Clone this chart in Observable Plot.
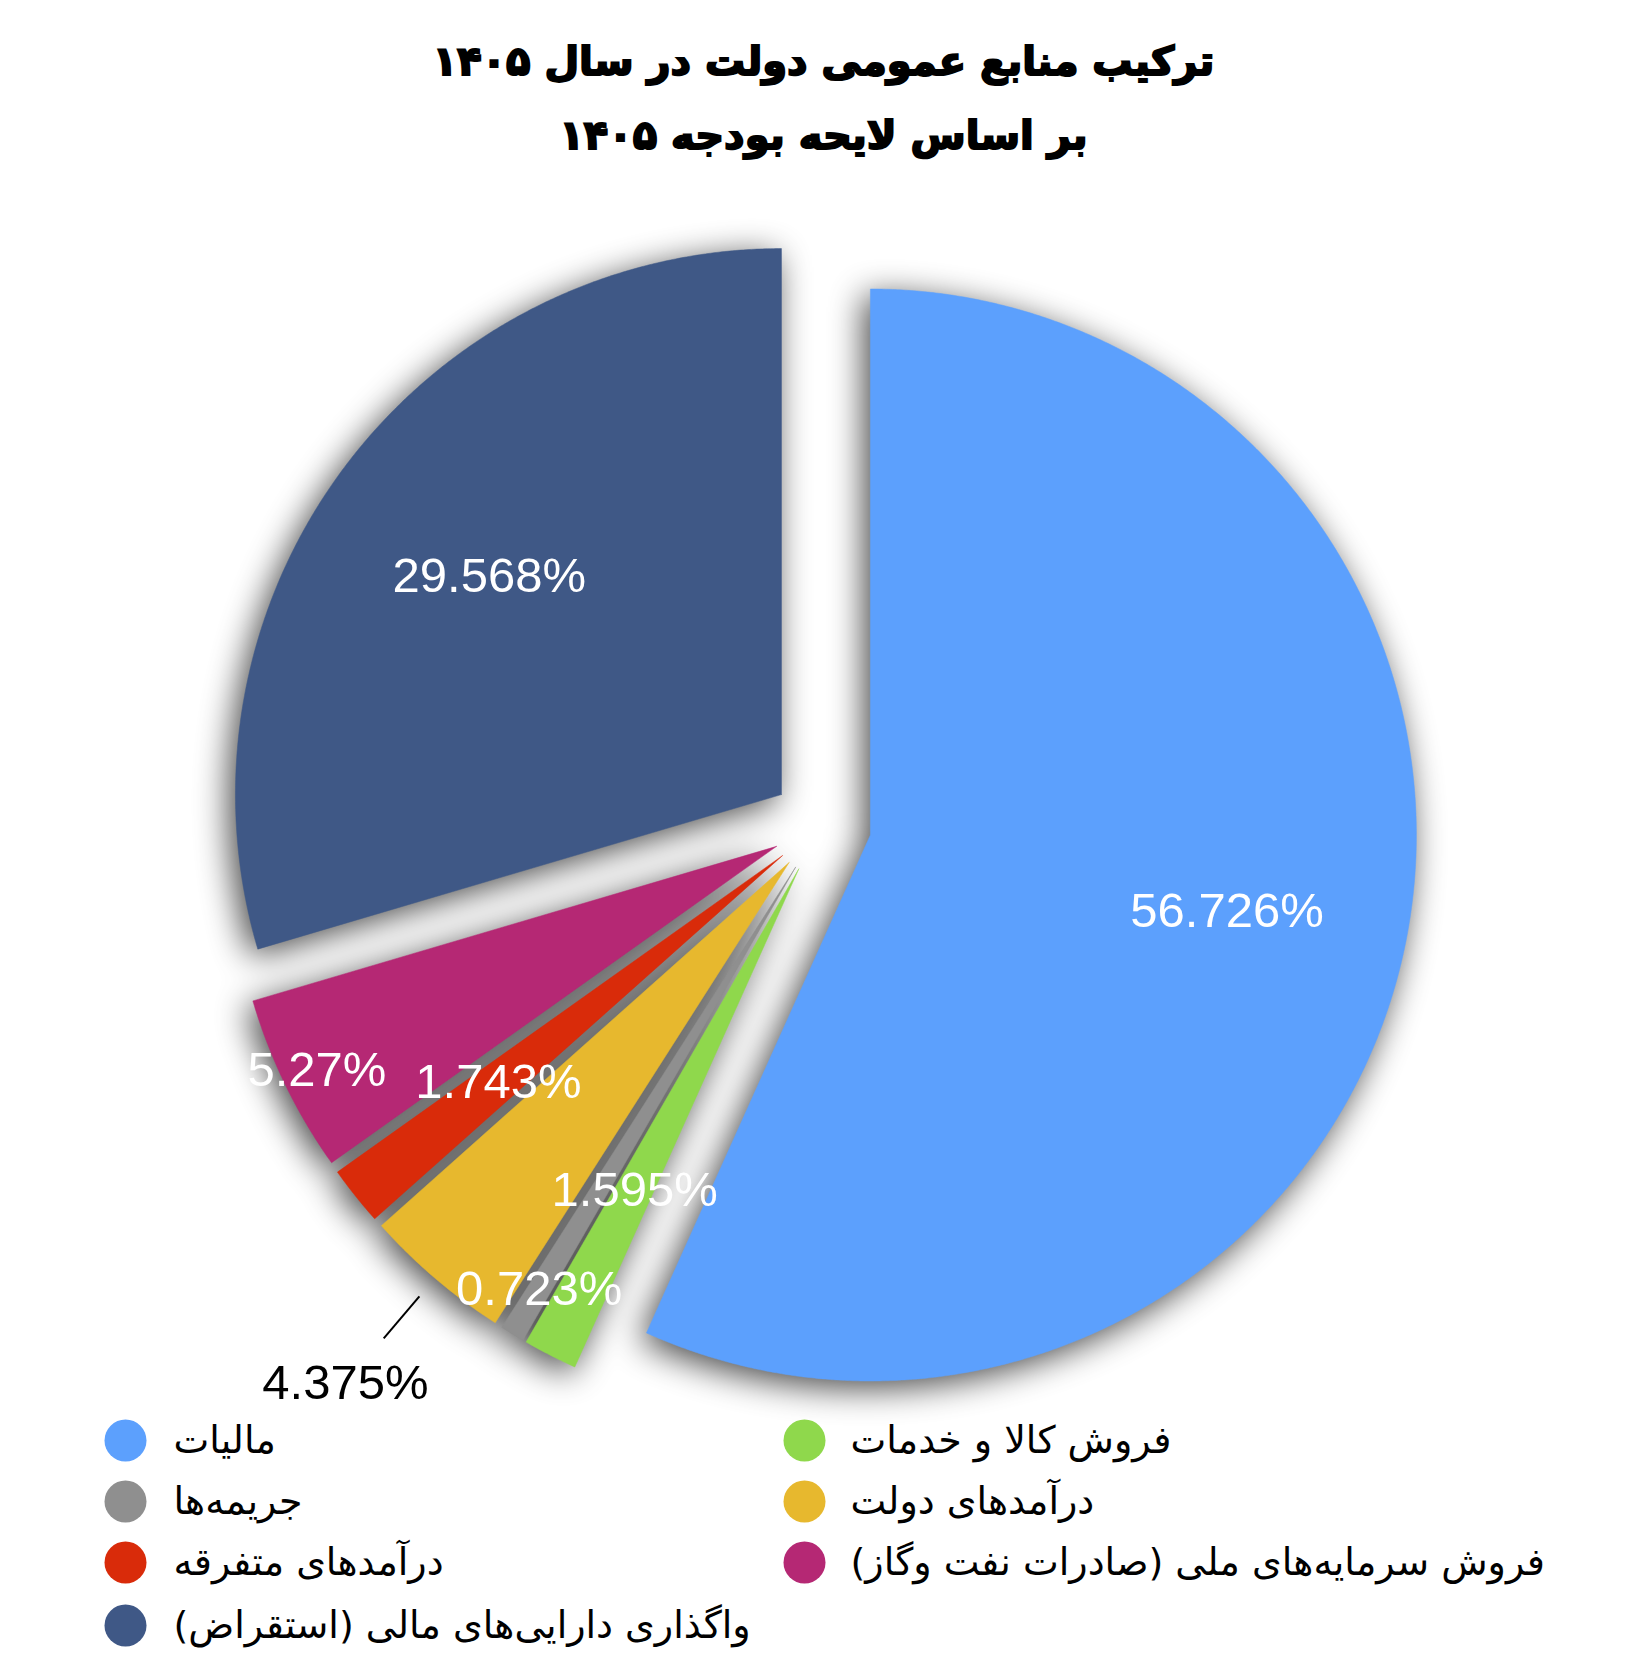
<!DOCTYPE html>
<html><head><meta charset="utf-8">
<script src="https://cdn.jsdelivr.net/npm/d3@7"></script>
<script src="https://cdn.jsdelivr.net/npm/@observablehq/plot@0.6"></script>
<style>
body{margin:0;background:#fff;width:1647px;}
#title{height:190px;box-sizing:border-box;padding-top:24px;text-align:center;font-family:"DejaVu Sans";font-weight:bold;font-size:40px;line-height:74px;color:#000;-webkit-text-stroke:2px #000;}
</style></head><body>
<div id="title" dir="rtl"><div>ترکیب منابع عمومی دولت در سال ۱۴۰۵</div><div>بر اساس لایحه بودجه ۱۴۰۵</div></div>
<div id="chart"></div>
<script>
// ---- data ----
const names = [
  "مالیات",
  "فروش کالا و خدمات",
  "جریمه\u200cها",
  "درآمدهای دولت",
  "درآمدهای متفرقه",
  "فروش سرمایه\u200cهای ملی (صادرات نفت وگاز)",
  "واگذاری دارایی\u200cهای مالی (استقراض)"
];
const values = [56.726, 1.595, 0.723, 4.375, 1.743, 5.27, 29.568];
const colors = ["#5ca0fd", "#8fd84c", "#8f8f8f", "#e7b82e", "#d92b0a", "#b52874", "#3f5886"];

// ---- layout ----
const W = 1647, TOP = 190, H = 1659 - TOP;
const cx = 821, cy = 824, R = 546, explode = 50;
const labelRadius = [0.668, 0.66, 0.905, null, 0.665, 0.936, 0.668]; // null = outside label
const legendCircleX = [125, 804], legendTextX = [173, 850], legendRowY = [1440, 1501, 1562, 1625];

const total = d3.sum(values);
let acc = 0;
const slices = values.map((v, i) => {
  const a0 = acc / total * 2 * Math.PI; acc += v;
  const a1 = acc / total * 2 * Math.PI;
  return {i, name: names[i], value: v, color: colors[i], a0, a1, mid: (a0 + a1) / 2};
});
function pt(s, r, a) {
  const ox = cx + explode * Math.sin(s.mid), oy = cy - explode * Math.cos(s.mid);
  return [ox + r * Math.sin(a), oy - r * Math.cos(a)];
}
function slicePts(s) {
  const n = Math.max(2, Math.ceil((s.a1 - s.a0) / 0.005));
  const arr = [pt(s, 0, s.mid)];
  for (let k = 0; k <= n; k++) arr.push(pt(s, R, s.a0 + (s.a1 - s.a0) * k / n));
  arr.push(pt(s, 0, s.mid));
  return arr;
}
const inLabels = slices.filter(s => labelRadius[s.i] != null).map(s => ({s, p: pt(s, R * labelRadius[s.i], s.mid), t: s.value + "%"}));
const outSlices = slices.filter(s => labelRadius[s.i] == null);
const outLabels = outSlices.map(s => ({s, p: pt(s, R + 138, s.mid), t: s.value + "%"}));
const leaders = outSlices.map(s => ({a: pt(s, R + 24, s.mid), b: pt(s, R + 79, s.mid)}));
const legend = slices.map(s => ({s, cxp: legendCircleX[s.i % 2], tx: legendTextX[s.i % 2], y: legendRowY[Math.floor(s.i / 2)]}));

const svg = Plot.plot({
  width: W, height: H, margin: 0,
  x: {domain: [0, W], range: [0, W], axis: null},
  y: {domain: [TOP, TOP + H], range: [0, H], axis: null},
  style: {overflow: "visible", background: "white"},
  marks: [
    ...slices.map(s => Plot.line(slicePts(s), {x: d => d[0], y: d => d[1], fill: s.color, stroke: s.color, strokeWidth: 0.5})),
    Plot.text(inLabels, {x: d => d.p[0], y: d => d.p[1], text: "t", fill: "white", fontSize: 49, fontFamily: "Liberation Sans, Arial, sans-serif"}),
    Plot.link(leaders, {x1: d => d.a[0], y1: d => d.a[1], x2: d => d.b[0], y2: d => d.b[1], stroke: "black", strokeWidth: 2}),
    Plot.text(outLabels, {x: d => d.p[0], y: d => d.p[1], text: "t", fill: "black", fontSize: 49, fontFamily: "Liberation Sans, Arial, sans-serif"}),
    Plot.dot(legend, {x: "cxp", y: "y", r: 21, fill: d => d.s.color, stroke: "none"}),
    Plot.text(legend, {x: "tx", y: "y", text: d => "\u2067" + d.s.name + "\u2069", textAnchor: "start", fill: "black", fontSize: 38, fontFamily: "DejaVu Sans"})
  ]
});
// SVG drop-shadow filter wrapping all slice groups
const NS = "http://www.w3.org/2000/svg";
const defs = document.createElementNS(NS, "defs");
defs.innerHTML = '<filter id="sliceShadow" x="-20%" y="-20%" width="140%" height="140%" color-interpolation-filters="sRGB">' +
  '<feGaussianBlur in="SourceAlpha" stdDeviation="17"/>' +
  '<feOffset dx="-6" dy="7" result="ob"/>' +
  '<feComponentTransfer><feFuncA type="linear" slope="0.72"/></feComponentTransfer>' +
  '<feMerge><feMergeNode/><feMergeNode in="SourceGraphic"/></feMerge></filter>';
svg.insertBefore(defs, svg.firstChild);
const sliceGroups = Array.from(svg.querySelectorAll('g[aria-label="line"]'));
if (sliceGroups.length) {
  const wrap = document.createElementNS(NS, "g");
  wrap.setAttribute("filter", "url(#sliceShadow)");
  sliceGroups[0].parentNode.insertBefore(wrap, sliceGroups[0]);
  sliceGroups.forEach(g => wrap.appendChild(g));
}
document.getElementById("chart").appendChild(svg);
</script>
</body></html>
